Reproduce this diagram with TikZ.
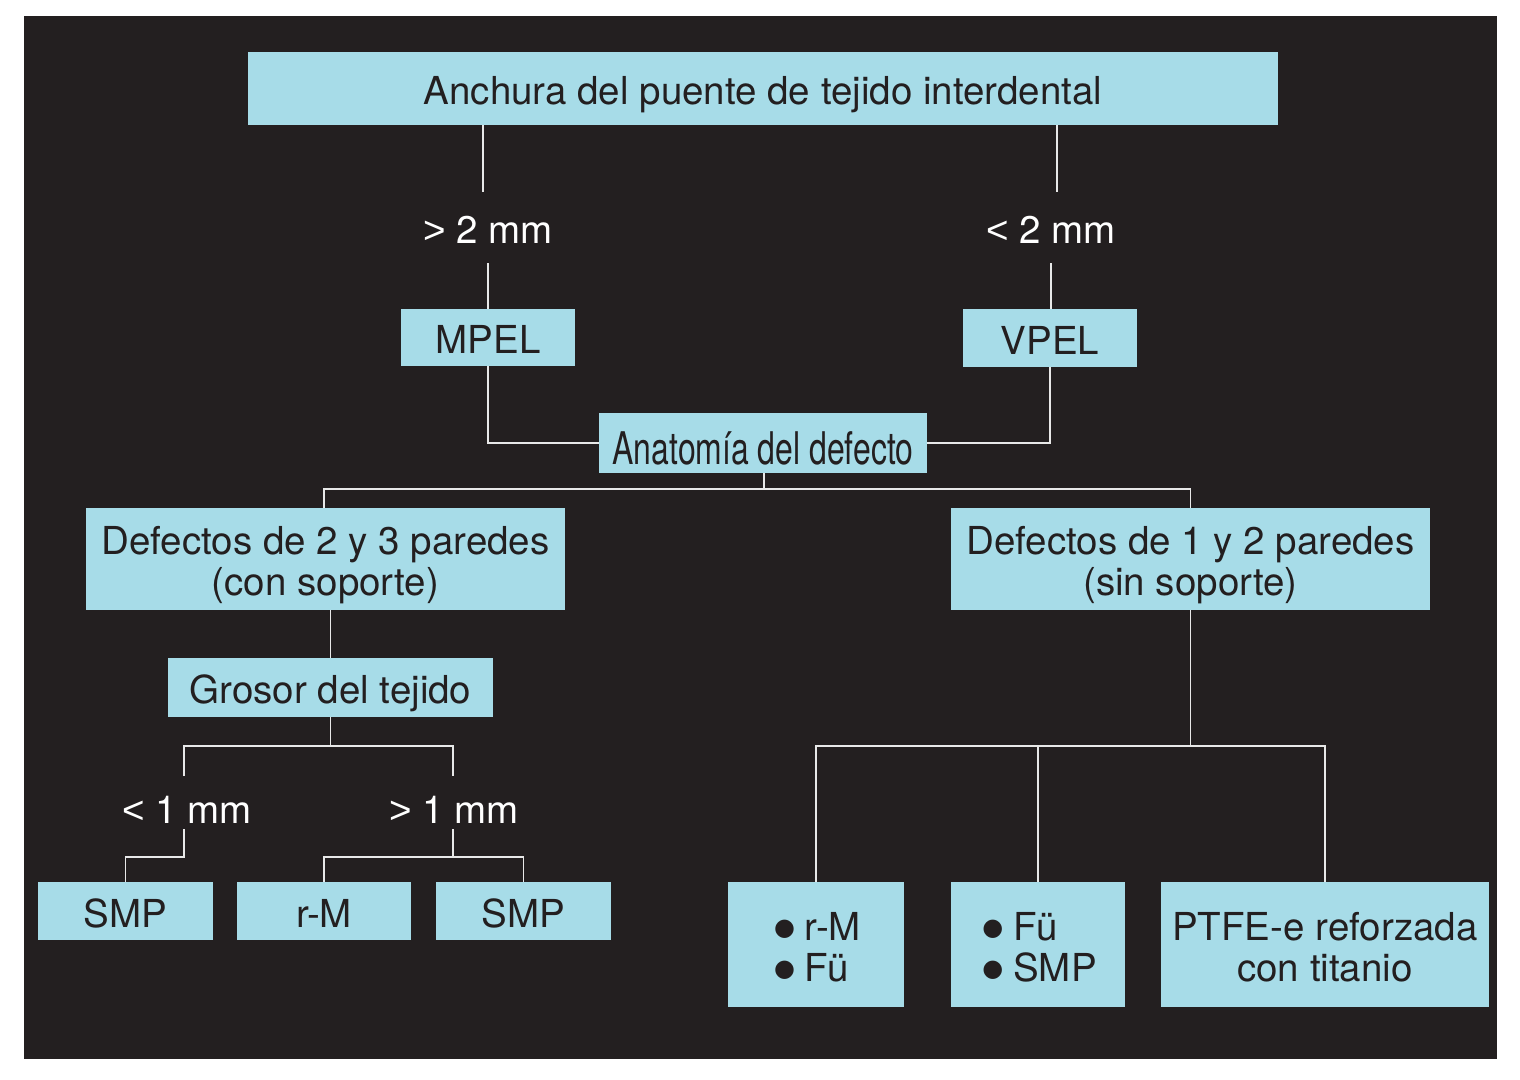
\documentclass[tikz,border=0pt]{standalone}
\usepackage{fontspec}
\setmainfont{TeX Gyre Heros}
\newfontfamily\libfont{Liberation Sans}
\newfontfamily\dvfont{DejaVu Sans}
\usetikzlibrary{calc}
\definecolor{bgc}{HTML}{231F20}
\definecolor{boxc}{HTML}{A7DCE8}
\definecolor{linec}{HTML}{E8E8E8}
\newcommand\tl[1]{\raisebox{0pt}[32pt][0pt]{#1}}
\newcommand\bul{{\dvfont\fontsize{24}{24}\selectfont\raisebox{5pt}{●}}\hspace{10pt}}
\newcommand\gtr{{\libfont >}}
\newcommand\lsr{{\libfont <}}
\begin{document}
\begin{tikzpicture}[x=1pt,y=-1pt,
  box/.style={fill=boxc,text=bgc,inner sep=0pt,align=center,
    font=\fontsize{38.5}{41}\selectfont},
  lbl/.style={text=white,inner sep=0pt,font=\fontsize{38.5}{41}\selectfont},
  conn/.style={draw=linec,line width=1.8pt}]
\useasboundingbox (0,0) rectangle (1520,1079);
\fill[white] (0,0) rectangle (1520,1079);
\fill[bgc] (24,16) rectangle (1497,1059);

% nodes
\node[box,minimum width=1030,minimum height=73] (top) at (763,88.5) {\tl{Anchura del puente de tejido interdental}};
\node[lbl] (l1) at (488,230) {\gtr\ 2 mm};
\node[lbl] (l2) at (1051,230) {\lsr\ 2 mm};
\node[box,minimum width=174,minimum height=57] (mpel) at (488,337.5) {\tl{MPEL}};
\node[box,minimum width=174,minimum height=58] (vpel) at (1050,338) {\tl{VPEL}};
\node[box,minimum width=328,minimum height=60] (anat) at (763,443)
  {\fontsize{45}{48}\selectfont\raisebox{0pt}[43pt][0pt]{\scalebox{0.71}[1]{Anatomía del defecto}}};
\node[box,minimum width=479,minimum height=102] (def1) at (325.5,559) {\tl{Defectos de 2 y 3 paredes}\\\tl{(con soporte)}};
\node[box,minimum width=479,minimum height=102] (def2) at (1190.5,559) {\tl{Defectos de 1 y 2 paredes}\\\tl{(sin soporte)}};
\node[box,minimum width=325,minimum height=59] (gros) at (330.5,687.5) {\tl{Grosor del tejido}};
\node[lbl] (l3) at (187,810) {\lsr\ 1 mm};
\node[lbl] (l4) at (454,810) {\gtr\ 1 mm};
\node[box,minimum width=175,minimum height=58] (s1) at (125.5,911) {\tl{SMP}};
\node[box,minimum width=174,minimum height=58] (rm) at (324,911) {\tl{r-M}};
\node[box,minimum width=175,minimum height=58] (s2) at (523.5,911) {\tl{SMP}};
\node[box,align=left,minimum width=176,minimum height=125] (b1) at (816,944.5)
  {\tl{\hspace{3pt}\bul r-M}\\\tl{\hspace{3pt}\bul Fü}};
\node[box,align=left,minimum width=174,minimum height=125] (b2) at (1038,944.5)
  {\tl{\hspace{3pt}\bul Fü}\\\tl{\hspace{3pt}\bul SMP}};
\node[box,minimum width=328,minimum height=125] (b3) at (1325,944.5) {\tl{PTFE-e reforzada}\\\tl{con titanio}};

% connectors
\coordinate (l1t) at ($(l1.center)+(-5,-38)$);
\coordinate (l1b) at ($(l1.center)+(0,33)$);
\coordinate (l2t) at ($(l2.center)+(6,-38)$);
\coordinate (l2b) at ($(l2.center)+(0,33)$);
\draw[conn] (top.south -| l1t) -- (l1t);
\draw[conn] (top.south -| l2t) -- (l2t);
\draw[conn] (l1b) -- (mpel.north -| l1b);
\draw[conn] (l2b) -- (vpel.north -| l2b);
\draw[conn] (mpel.south) |- (anat.west);
\draw[conn] (vpel.south) |- (anat.east);
\coordinate (j1) at ($(anat.south)+(1,16)$);
\draw[conn] (anat.south -| j1) -- (j1);
\draw[conn] ($(def1.north)+(-1.5,0)$) |- (j1) -| (def2.north);
\draw[conn] (gros.north) -- (gros.north |- def1.south);
\coordinate (j2) at ($(gros.south)+(0,29)$);
\draw[conn] (gros.south) -- (j2);
\coordinate (l3t) at ($(l3.center)+(-3,-34)$);
\coordinate (l4t) at ($(l4.center)+(-1,-34)$);
\draw[conn] (l3t) |- (j2) -| (l4t);
\coordinate (l3b) at ($(l3.center)+(-3,19)$);
\coordinate (l4b) at ($(l4.center)+(-1,19)$);
\draw[conn] (l3b) -- ++(0,28) -| (s1.north);
\coordinate (j3) at ($(l4b)+(0,28)$);
\draw[conn] (l4b) -- (j3);
\draw[conn] (rm.north) |- (j3) -| (s2.north);
\coordinate (j4) at (def2.south |- 0,746);
\draw[conn] (def2.south) -- (j4);
\draw[conn] (b1.north) |- (j4) -| (b3.north);
\draw[conn] (b2.north) -- (b2.north |- j4);
\end{tikzpicture}
\end{document}
